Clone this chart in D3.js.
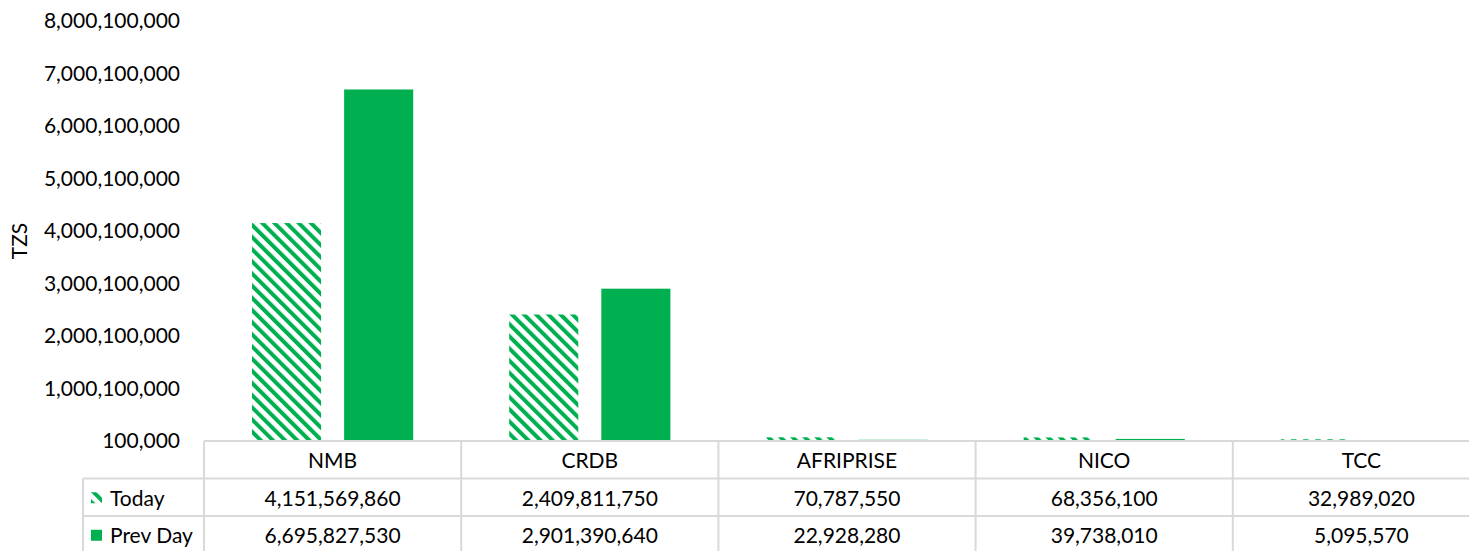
<!DOCTYPE html>
<html>
<head>
<meta charset="utf-8">
<script src="https://cdn.jsdelivr.net/npm/d3@7"></script>
<style>
  body { margin: 0; background: #fff; }
  svg { display: block; font-family: Lato, "Open Sans", sans-serif; }
</style>
</head>
<body>
<div id="chart-container"></div>
<script>
// chart data
const categories = ["NMB", "CRDB", "AFRIPRISE", "NICO", "TCC"];
const seriesNames = ["Today", "Prev Day"];
const todayValues = [4151569860, 2409811750, 70787550, 68356100, 32989020];
const prevDayValues = [6695827530, 2901390640, 22928280, 39738010, 5095570];
const yTicks = [100000, 1000100000, 2000100000, 3000100000, 4000100000, 5000100000, 6000100000, 7000100000, 8000100000];

const svgWidth = 1476;
const svgHeight = 551;
const margin = { top: 21, left: 204 };
const green = "#00B050";
const gridColor = "#d9d9d9";
const fontSize = "21px";

const svg = d3.select("#chart-container")
    .append("svg")
    .attr("width", svgWidth)
    .attr("height", svgHeight);

// striped fill for "Today"
const defs = svg.append("defs");
const pat = defs.append("pattern")
    .attr("id", "stripes")
    .attr("patternUnits", "userSpaceOnUse")
    .attr("width", 8.6)
    .attr("height", 8.6)
    .attr("patternTransform", "rotate(-45)");
pat.append("rect").attr("width", 8.6).attr("height", 8.6).attr("fill", "#fff");
pat.append("rect").attr("width", 4).attr("height", 8.6).attr("fill", green);

const scaleX = d3.scaleBand()
    .domain(categories)
    .range([margin.left, 1490])
    .paddingInner(0)
    .paddingOuter(0);

const scaleY = d3.scaleLinear()
    .domain([yTicks[0], yTicks[yTicks.length - 1]])
    .range([441, margin.top]);

const inner = d3.scaleBand()
    .domain(seriesNames)
    .range([48, scaleX.bandwidth() - 48])
    .paddingInner(0.25);

// y axis labels
const yAxis = svg.append("g")
    .attr("transform", `translate(${margin.left},0)`)
    .call(d3.axisLeft(scaleY).tickValues(yTicks).tickFormat(d3.format(",")).tickSize(0).tickPadding(24));
yAxis.select(".domain").remove();
yAxis.selectAll("text")
    .attr("font-family", "Lato, 'Open Sans', sans-serif")
    .attr("font-size", fontSize)
    .attr("fill", "#000");

svg.append("text")
    .attr("transform", `translate(22,${(441 + margin.top) / 2 + 10}) rotate(-90)`)
    .attr("text-anchor", "middle")
    .attr("dominant-baseline", "middle")
    .attr("font-size", fontSize)
    .text("TZS");

// bars
const seriesData = [
    { name: "Today", values: todayValues, fill: "url(#stripes)" },
    { name: "Prev Day", values: prevDayValues, fill: green }
];

seriesData.forEach(function(s) {
    svg.append("g")
        .selectAll("rect")
        .data(categories)
        .join("rect")
        .attr("x", (c) => scaleX(c) + inner(s.name))
        .attr("width", inner.bandwidth())
        .attr("y", (c, i) => scaleY(s.values[i]))
        .attr("height", (c, i) => scaleY(yTicks[0]) - scaleY(s.values[i]))
        .attr("fill", s.fill);
});

// data table
const rowTop = 441, rowH = 37.5;
const tableLeft = 83, tableRight = 1469;
const grid = svg.append("g").attr("stroke", gridColor).attr("stroke-width", 2);

grid.append("line").attr("x1", margin.left).attr("x2", tableRight).attr("y1", rowTop).attr("y2", rowTop);
[1, 2].forEach(function(r) {
    grid.append("line").attr("x1", tableLeft).attr("x2", tableRight)
        .attr("y1", rowTop + r * rowH).attr("y2", rowTop + r * rowH);
});
grid.append("line").attr("x1", tableLeft).attr("x2", tableLeft).attr("y1", rowTop + rowH).attr("y2", svgHeight);
categories.forEach(function(c) {
    grid.append("line").attr("x1", scaleX(c)).attr("x2", scaleX(c)).attr("y1", rowTop).attr("y2", svgHeight);
});

const fmt = d3.format(",");
svg.append("g").selectAll("text")
    .data(categories)
    .join("text")
    .attr("x", c => scaleX(c) + scaleX.bandwidth() / 2)
    .attr("y", rowTop + rowH / 2)
    .attr("text-anchor", "middle")
    .attr("dominant-baseline", "central")
    .attr("font-size", fontSize)
    .text(c => c);

seriesData.forEach(function(s, r) {
    const yMid = rowTop + (r + 1.5) * rowH;
    svg.append("g").selectAll("text")
        .data(categories)
        .join("text")
        .attr("x", c => scaleX(c) + scaleX.bandwidth() / 2)
        .attr("y", yMid)
        .attr("text-anchor", "middle")
        .attr("dominant-baseline", "central")
        .attr("font-size", fontSize)
        .text((c, i) => fmt(s.values[i]));

    svg.append("rect")
        .attr("x", 91)
        .attr("y", yMid - 5)
        .attr("width", 11)
        .attr("height", 11)
        .attr("fill", s.name === "Today" ? "url(#stripes)" : green);

    svg.append("text")
        .attr("x", 110)
        .attr("y", yMid)
        .attr("dominant-baseline", "central")
        .attr("font-size", fontSize)
        .text(s.name);
});
</script>
</body>
</html>
